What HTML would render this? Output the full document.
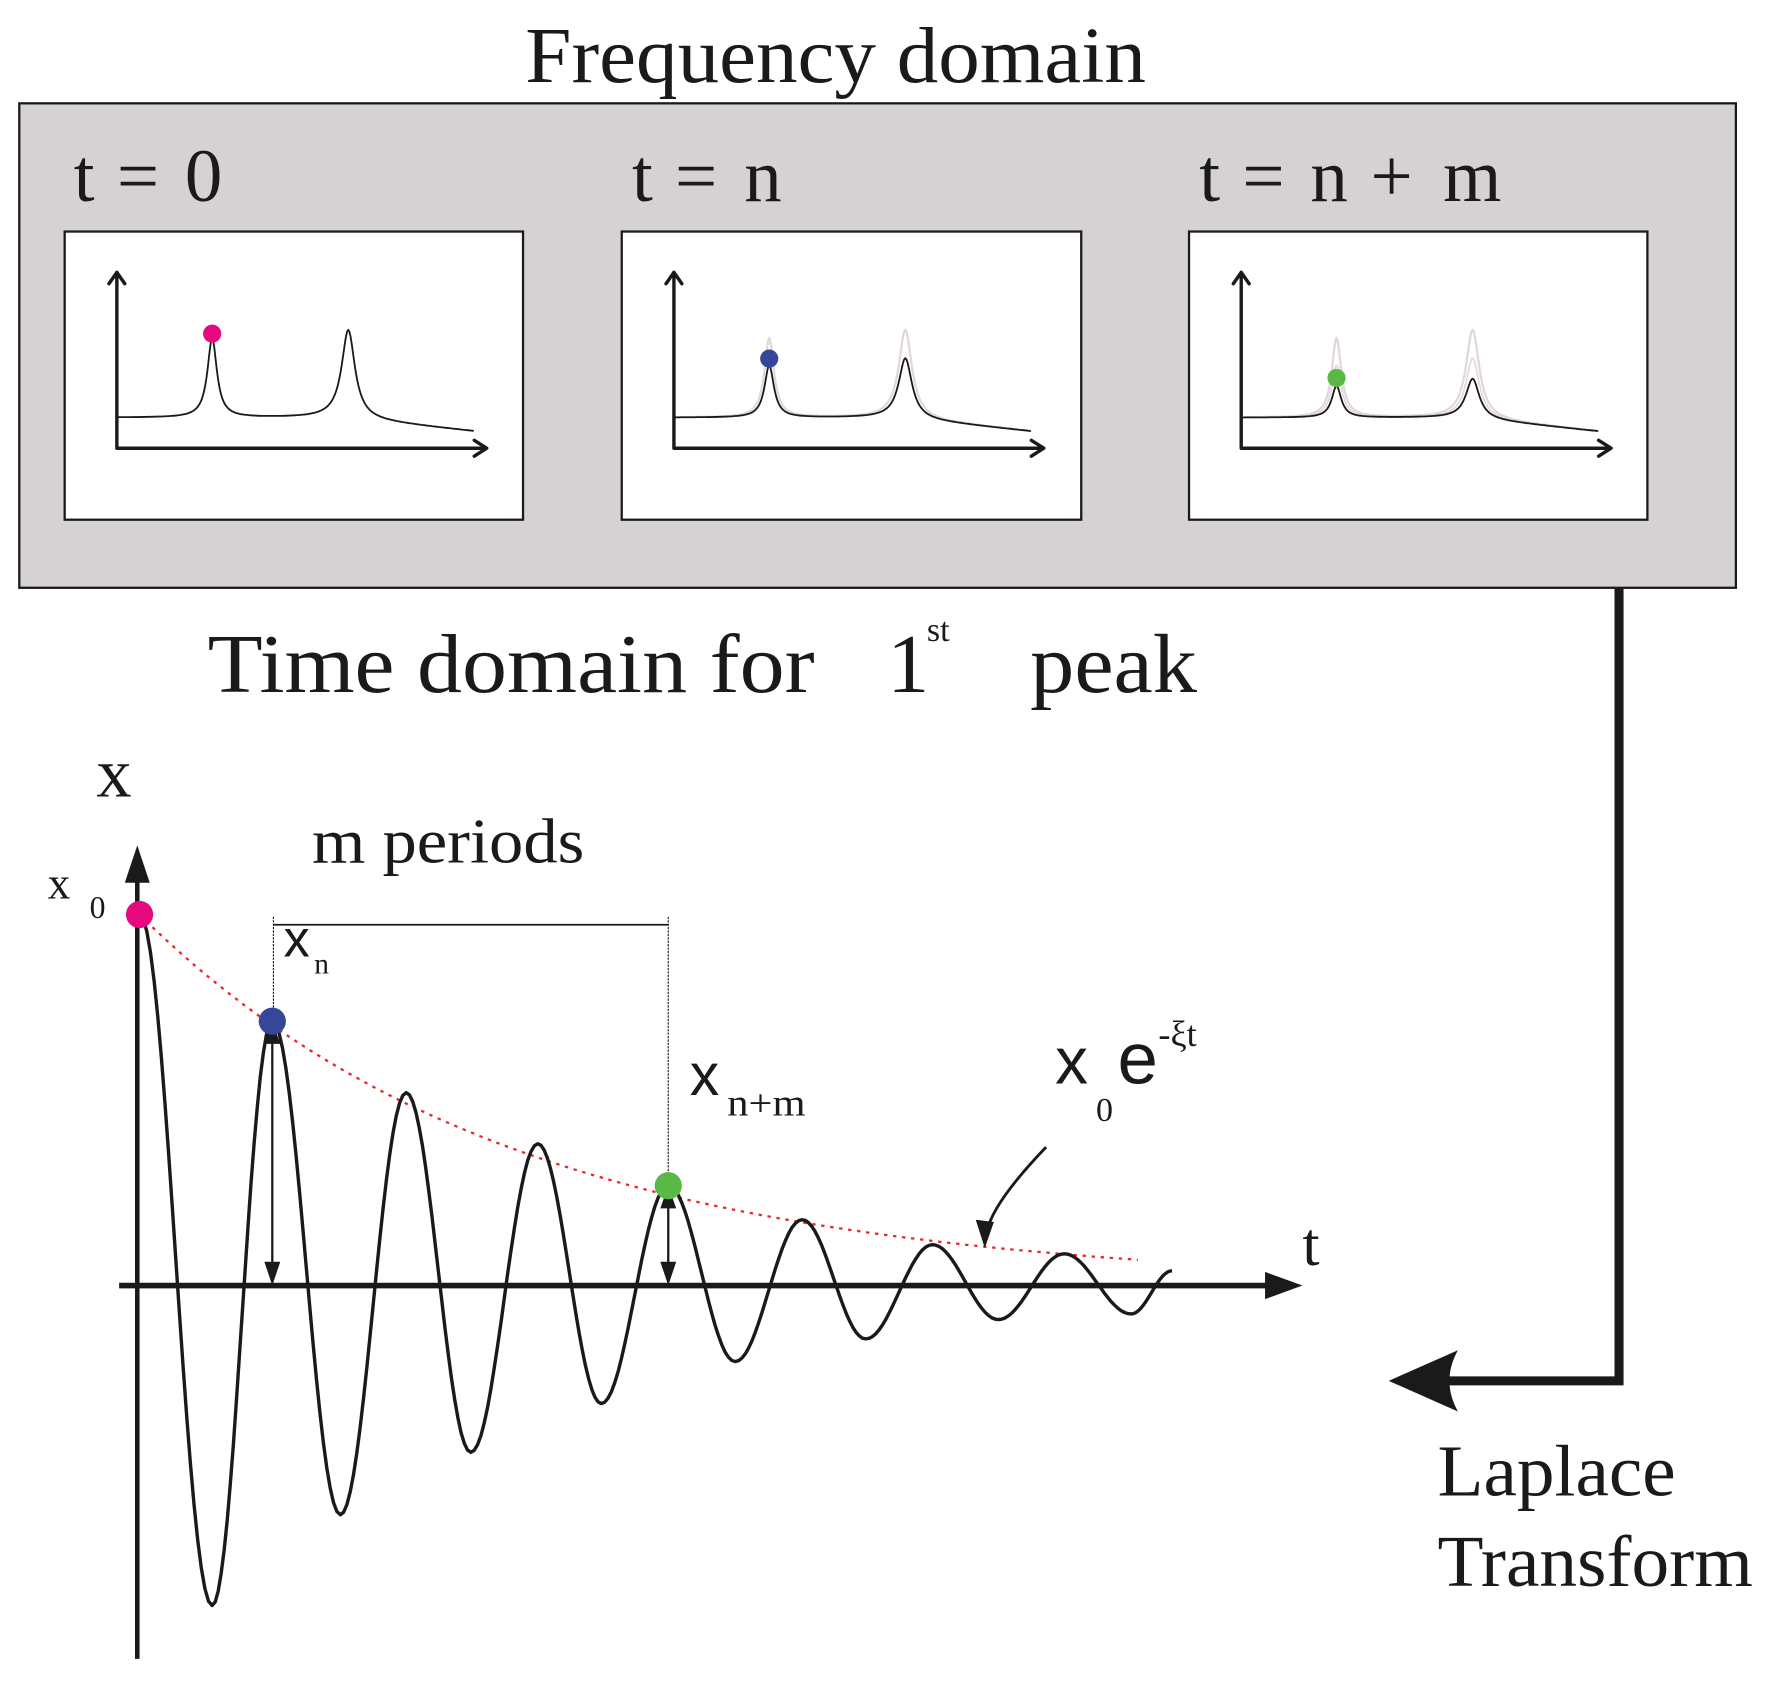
<!DOCTYPE html>
<html><head><meta charset="utf-8"><style>html,body{margin:0;padding:0;background:#fff}svg{display:block}</style></head>
<body>
<svg id="s" width="1779" height="1685" viewBox="0 0 1568 1485" xmlns="http://www.w3.org/2000/svg" font-family="'Liberation Serif', serif" fill="#1a1a1a">
<text x="463" y="72" font-size="70" textLength="547" lengthAdjust="spacingAndGlyphs">Frequency domain</text>
<rect x="17" y="91" width="1513" height="427" fill="#d6d2d3" stroke="#1a1a1a" stroke-width="2"/>
<text x="65" y="177" font-size="66">t</text><text x="103" y="177" font-size="66">=</text><text x="163" y="177" font-size="66">0</text>
<text x="557" y="177" font-size="66">t</text><text x="595" y="177" font-size="66">=</text><text x="656" y="177" font-size="66">n</text>
<text x="1057" y="177" font-size="66">t</text><text x="1095" y="177" font-size="66">=</text><text x="1155" y="177" font-size="66">n</text><text x="1208" y="177" font-size="66">+</text><text x="1272" y="177" font-size="66">m</text>
<rect x="57" y="204" width="404" height="254" fill="#fff" stroke="#1a1a1a" stroke-width="2"/>
<rect x="548" y="204" width="405" height="254" fill="#fff" stroke="#1a1a1a" stroke-width="2"/>
<rect x="1048" y="204" width="404" height="254" fill="#fff" stroke="#1a1a1a" stroke-width="2"/>
<g id="spec" fill="none" stroke-linecap="round" stroke-linejoin="round"></g>
<text x="183" y="610" font-size="74" textLength="535" lengthAdjust="spacingAndGlyphs">Time domain for</text>
<text x="782" y="610" font-size="74">1</text>
<text x="817" y="565" font-size="30">st</text>
<text x="908" y="610" font-size="74" textLength="147" lengthAdjust="spacingAndGlyphs">peak</text>
<polyline points="1427,518 1427,1217 1275,1217" fill="none" stroke="#1a1a1a" stroke-width="8"/>
<path d="M1224,1217 L1285,1190 Q1270,1217 1285,1244 Z" fill="#1a1a1a"/>
<text x="1267" y="1318" font-size="64" textLength="210" lengthAdjust="spacingAndGlyphs">Laplace</text>
<text x="1267" y="1398" font-size="64" textLength="278" lengthAdjust="spacingAndGlyphs">Transform</text>
<line x1="121" y1="1462" x2="121" y2="770" stroke="#1a1a1a" stroke-width="4"/>
<path d="M121,745 L110,778 L132,778 Z" fill="#1a1a1a"/>
<line x1="105" y1="1133" x2="1125" y2="1133" stroke="#1a1a1a" stroke-width="5"/>
<path d="M1148,1133 L1115,1121 L1115,1145 Z" fill="#1a1a1a"/>
<text x="85" y="702" font-size="62">x</text>
<text x="1148" y="1115" font-size="54">t</text>
<text x="42" y="792" font-size="40">x</text>
<text x="79" y="809" font-size="28">0</text>
<text x="275" y="760" font-size="56" textLength="240" lengthAdjust="spacingAndGlyphs">m periods</text>
<line x1="241" y1="815" x2="589" y2="815" stroke="#1a1a1a" stroke-width="1.5"/>
<line x1="241" y1="808" x2="241" y2="900" stroke="#1a1a1a" stroke-width="1" stroke-dasharray="2,1"/>
<line x1="589" y1="808" x2="589" y2="1045" stroke="#1a1a1a" stroke-width="1" stroke-dasharray="2,1"/>
<text x="250" y="843" font-size="46" font-family="'Liberation Sans',sans-serif">x</text>
<text x="277" y="858" font-size="26">n</text>
<text x="608" y="965" font-size="52" font-family="'Liberation Sans',sans-serif">x</text>
<text x="641" y="983" font-size="34" textLength="69" lengthAdjust="spacingAndGlyphs">n+m</text>
<text x="930" y="955" font-size="58" font-family="'Liberation Sans',sans-serif">x</text>
<text x="966" y="988" font-size="30">0</text>
<text x="985" y="955" font-size="64" font-family="'Liberation Sans',sans-serif">e</text>
<text x="1021" y="922" font-size="32">-ξt</text>
<path id="env" fill="none" stroke="#e8262b" stroke-width="2" stroke-dasharray="3,5"/>
<path id="osc" fill="none" stroke="#1a1a1a" stroke-width="3" stroke-linejoin="round"/>
<line x1="240" y1="915" x2="240" y2="1118" stroke="#1a1a1a" stroke-width="2"/>
<path d="M240,900 L233,920 L247,920 Z M240,1133 L233,1112 L247,1112 Z" fill="#1a1a1a"/>
<line x1="589" y1="1060" x2="589" y2="1118" stroke="#1a1a1a" stroke-width="2"/>
<path d="M589,1045 L582,1065 L596,1065 Z M589,1133 L582,1112 L596,1112 Z" fill="#1a1a1a"/>
<path d="M922,1011 Q875,1060 870,1085" fill="none" stroke="#1a1a1a" stroke-width="2.5"/>
<path d="M868,1100 L860,1075 L876,1077 Z" fill="#1a1a1a"/>
<circle cx="123" cy="806" r="12" fill="#e6087e"/>
<circle cx="240" cy="900" r="12" fill="#36479a"/>
<circle cx="589" cy="1045" r="12" fill="#5ab946"/>
</svg>
<script>
var NS="http://www.w3.org/2000/svg";
function el(t,a,p){var e=document.createElementNS(NS,t);for(var k in a)e.setAttribute(k,a[k]);p.appendChild(e);return e;}
var g=document.getElementById('spec');
function spec(ox,h1,h2,col,sw){
 var d="";
 for(var x=104;x<=417;x+=1){
  var base=368+12*Math.max(0,(x-300))/117;
  var y=base-h1/(1+Math.pow((x-187)/5,2))-h2/(1+Math.pow((x-307)/7,2));
  d+=(x==104?"M":"L")+(x+ox)+","+y.toFixed(1);
 }
 el('path',{d:d,stroke:col,'stroke-width':sw},g);
}
var boxes=[[0,70,78,'#e6087e',294],[491,46,53,'#36479a',316],[991,28,35,'#5ab946',333]];
boxes.forEach(function(b,i){
 var ox=b[0];
 if(i>0){spec(ox,70,78,'#e2d8da',2);}
 if(i>1){spec(ox,46,53,'#e2d8da',1.5);}
 spec(ox,b[1],b[2],'#1a1a1a',1.6);
 el('path',{d:'M'+(103+ox)+',395 L'+(103+ox)+',240 M'+(96+ox)+',250 L'+(103+ox)+',240 L'+(110+ox)+',250 M'+(103+ox)+',395 L'+(428+ox)+',395 M'+(418+ox)+',388 L'+(429+ox)+',395 L'+(418+ox)+',402',stroke:'#1a1a1a','stroke-width':3},g);
 el('circle',{cx:187+ox,cy:b[4],r:8,fill:b[3]},g);
});
var ex=[[123,806],[187,1415],[240,900],[300,1335],[358,963],[415,1280],[474,1008],[530,1237],[589,1045],[648,1200],[707,1075],[763,1180],[822,1097],[880,1163],[938,1105],[997,1158],[1033,1120]];
var d="M123,806";
for(var i=0;i<ex.length-1;i++){
 var a=ex[i],b=ex[i+1];
 for(var s=1;s<=20;s++){var t=s/20;var x=a[0]+(b[0]-a[0])*t;var y=a[1]+(b[1]-a[1])*(1-Math.cos(Math.PI*t))/2;d+="L"+x.toFixed(1)+","+y.toFixed(1);}
}
document.getElementById('osc').setAttribute('d',d);
var e="";
for(var x=123;x<=1005;x+=4){var y=1133-327*Math.exp(-(x-123)/330);e+=(x==123?"M":"L")+x+","+y.toFixed(1);}
document.getElementById('env').setAttribute('d',e);
</script>
</body></html>
